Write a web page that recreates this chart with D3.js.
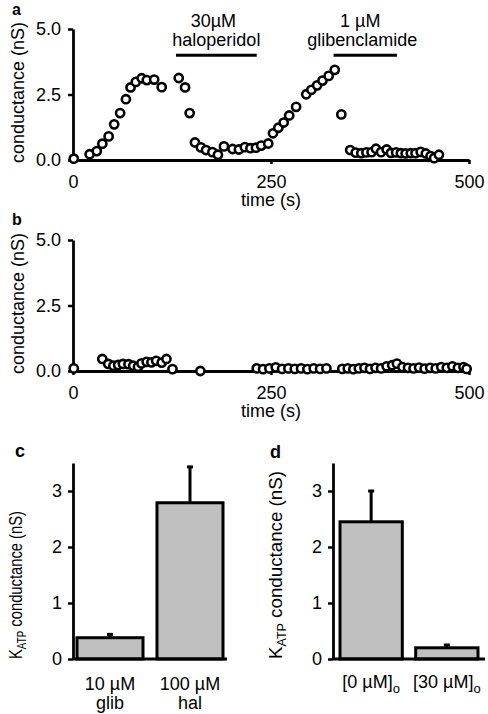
<!DOCTYPE html>
<html><head><meta charset="utf-8">
<script src="https://cdn.jsdelivr.net/npm/d3@7"></script>
<style>body{margin:0;background:#fff} text{font-family:"Liberation Sans",Arial,sans-serif;fill:#000}</style>
</head><body><svg width="488" height="714"></svg>
<script>
// ---------- data ----------
const timeA = [1,21,30,37,45,52,59.5,66.8,72.7,79.3,86.8,93.2,102.5,112,
  133.5,141.5,147.3,154,161.5,168,176,183,190.6,201.5,209.5,217,224,231,237.6,246.5,
  252.5,259.3,266,273,281.7,294.5,301,308.3,315,322.8,330.5,
  338.8,350,357,364,370.5,377,382.5,389,396,401.5,408,414,420,426.5,432.5,439,445.5,451.5,456,462];
const condA = [0.05,0.22,0.34,0.62,0.9,1.36,1.79,2.32,2.77,2.98,3.12,3.05,3.07,2.78,
  3.13,2.77,1.79,0.67,0.48,0.38,0.3,0.2,0.52,0.42,0.4,0.49,0.45,0.47,0.55,0.63,
  1.02,1.23,1.43,1.7,2.03,2.51,2.68,2.85,3.03,3.21,3.44,
  1.74,0.38,0.28,0.26,0.29,0.3,0.43,0.3,0.4,0.27,0.29,0.26,0.25,0.26,0.26,0.31,0.25,0.15,0.07,0.2];
const timeB = [1,37,44.5,51,57,63,70,76,82,86.5,93,99,105,112,118,125.6,160.8,
  232,240,248,256,264,272,280,288,296,304,312,320,
  340,347,354,361,368,375,382,389,396,403,409,416,423,430,437,444,451,458,465,472,479,486,493,497];
const condB = [0.1,0.46,0.27,0.2,0.23,0.27,0.26,0.2,0.16,0.29,0.35,0.33,0.39,0.32,0.46,0.07,0,
  0.1,0.07,0.1,0.14,0.08,0.1,0.08,0.1,0.07,0.1,0.08,0.1,
  0.08,0.1,0.07,0.1,0.12,0.08,0.12,0.1,0.18,0.22,0.28,0.15,0.12,0.1,0.13,0.09,0.12,0.1,0.15,0.12,0.18,0.12,0.15,0.08];
const timeTicks = [0,250,500];
const condTicks = [0,2.5,5];
const drugDose = ["30µM","1 µM"];
const drugName = ["haloperidol","glibenclamide"];
const drugStart = [130,329];
const drugEnd = [232,409];
const catsC = ["10 µM","100 µM"];
const catsC2 = ["glib","hal"];
const meanC = [0.38,2.79];
const semC = [0.06,0.64];
const catsD = ["[0 µM]","[30 µM]"];
const catsDsub = ["o","o"];
const meanD = [2.45,0.2];
const semD = [0.55,0.05];
const barTicks = [0,1,2,3];

// ---------- drawing ----------
const svg = d3.select("svg");
const FS = 18;
function styleAxis(g){
  g.select(".domain").attr("stroke","#000").attr("stroke-width",2.8);
  g.selectAll(".tick line").attr("stroke","#000").attr("stroke-width",2.5);
  g.selectAll(".tick text").attr("font-size",FS).attr("font-family",'"Liberation Sans",Arial,sans-serif').attr("fill","#000");
}
const x = d3.scaleLinear().domain([0,500]).range([73,469]);

function scatter(times, conds, y0, y1, letter, letterY){
  const y = d3.scaleLinear().domain([0,5]).range([y0,y1]);
  svg.append("g").attr("transform",`translate(0,${y0})`)
    .call(d3.axisBottom(x).tickValues(timeTicks).tickSize(4).tickSizeOuter(0).tickPadding(11).tickFormat(d3.format("d")))
    .call(styleAxis);
  svg.append("g").attr("transform","translate(73,0)")
    .call(d3.axisLeft(y).tickValues(condTicks).tickSize(5).tickSizeOuter(0).tickPadding(7).tickFormat(d3.format(".1f")))
    .call(styleAxis);
  svg.append("text").attr("x",x(250)).attr("y",y0+46).attr("text-anchor","middle").attr("font-size",FS).text("time (s)");
  svg.append("text").attr("transform",`translate(24,${(y0+y1)/2-2}) rotate(-90)`).attr("text-anchor","middle").attr("font-size",FS).text("conductance (nS)");
  svg.append("text").attr("x",12).attr("y",letterY).attr("font-size",16).attr("font-weight","bold").text(letter);
  svg.append("g").selectAll("circle").data(times).join("circle")
    .attr("cx",d=>x(d)).attr("cy",(d,i)=>y(conds[i])).attr("r",4.1)
    .attr("fill","#fff").attr("stroke","#000").attr("stroke-width",2.6);
  return y;
}
const yA = scatter(timeA, condA, 160, 29, "a", 15);
scatter(timeB, condB, 371, 240, "b", 225);

// drug annotations on panel a
drugName.forEach((nm,i)=>{
  const yb = yA(4.0);
  const cx = (x(drugStart[i])+x(drugEnd[i]))/2 - (i===1?3:0);
  svg.append("line").attr("x1",x(drugStart[i])).attr("x2",x(drugEnd[i])).attr("y1",yb).attr("y2",yb)
    .attr("stroke","#000").attr("stroke-width",3);
  svg.append("text").attr("x",cx-(i===0?3:2)).attr("y",yb-28).attr("text-anchor","middle").attr("font-size",FS).text(drugDose[i]);
  svg.append("text").attr("x",cx).attr("y",yb-9).attr("text-anchor","middle").attr("font-size",FS).text(nm);
});

// bar panels
function bars(cats, means, sems, x0, x1, pi, po, letter, lx, ly, titleX, titleLen){
  const y = d3.scaleLinear().domain([0,3.5]).range([659,463]);
  const xb = d3.scaleBand().domain(cats).range([x0,x1]).paddingInner(pi).paddingOuter(po);
  const g = svg.append("g");
  g.selectAll("rect").data(cats).join("rect")
    .attr("x",d=>xb(d)).attr("width",xb.bandwidth())
    .attr("y",(d,i)=>y(means[i])).attr("height",(d,i)=>y(0)-y(means[i]))
    .attr("fill","#c0c0c0").attr("stroke","#000").attr("stroke-width",3);
  g.selectAll("line.err").data(cats).join("line").attr("class","err")
    .attr("x1",d=>xb(d)+xb.bandwidth()/2).attr("x2",d=>xb(d)+xb.bandwidth()/2)
    .attr("y1",(d,i)=>y(means[i])).attr("y2",(d,i)=>y(means[i]+sems[i]))
    .attr("stroke","#000").attr("stroke-width",3);
  g.selectAll("line.cap").data(cats).join("line").attr("class","cap")
    .attr("x1",d=>xb(d)+xb.bandwidth()/2-3).attr("x2",d=>xb(d)+xb.bandwidth()/2+3)
    .attr("y1",(d,i)=>y(means[i]+sems[i])).attr("y2",(d,i)=>y(means[i]+sems[i]))
    .attr("stroke","#000").attr("stroke-width",3);
  svg.append("line").attr("x1",x0).attr("x2",x1).attr("y1",y(0)).attr("y2",y(0)).attr("stroke","#000").attr("stroke-width",2.8);
  svg.append("g").attr("transform",`translate(${x0},0)`)
    .call(d3.axisLeft(y).tickValues(barTicks).tickSize(5).tickSizeOuter(0).tickPadding(6).tickFormat(d3.format("d")))
    .call(styleAxis);
  const t = svg.append("text").attr("transform",`translate(${titleX},${y(0)}) rotate(-90)`)
    .attr("text-anchor","start").attr("font-size",FS)
    .attr("textLength",titleLen).attr("lengthAdjust","spacingAndGlyphs");
  t.append("tspan").text("K");
  t.append("tspan").attr("font-size",12).attr("dy",4).text("ATP");
  t.append("tspan").attr("dy",-4).text(" conductance (nS)");
  svg.append("text").attr("x",lx).attr("y",ly).attr("font-size",18).attr("font-weight","bold").text(letter);
  return xb;
}
const xc = bars(catsC, meanC, semC, 73, 227, 0.175, 0.05, "c", 15, 457, 22, 148);
catsC.forEach((c,i)=>{
  const cx = xc(c)+xc.bandwidth()/2;
  svg.append("text").attr("x",cx).attr("y",690).attr("text-anchor","middle").attr("font-size",FS).text(c);
  svg.append("text").attr("x",cx).attr("y",709).attr("text-anchor","middle").attr("font-size",FS).text(catsC2[i]);
});
const xd = bars(catsD, meanD, semD, 333, 485, 0.177, 0.0925, "d", 270, 458, 282, 188);
catsD.forEach((c,i)=>{
  const cx = xd(c)+xd.bandwidth()/2;
  const t = svg.append("text").attr("x",cx).attr("y",688).attr("text-anchor","middle").attr("font-size",FS);
  t.append("tspan").text(c);
  t.append("tspan").attr("font-size",13).attr("dy",5).text(catsDsub[i]);
});
</script></body></html>
